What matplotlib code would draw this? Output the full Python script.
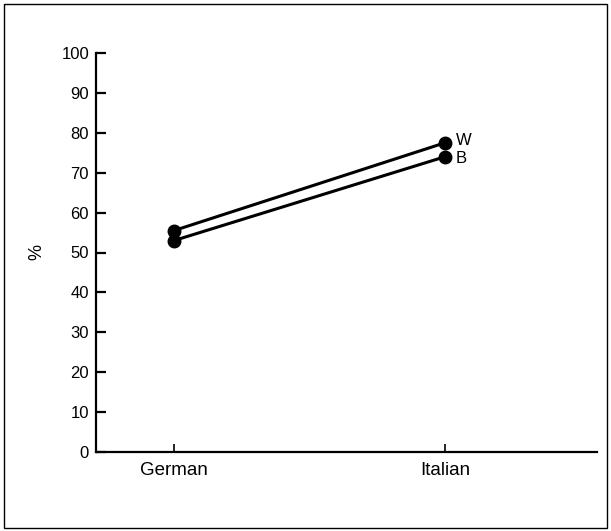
import matplotlib
matplotlib.use("Agg")
import matplotlib.pyplot as plt
from matplotlib.patches import Rectangle

plt.rcParams['font.family'] = ['Liberation Sans', 'DejaVu Sans']

categories = ["German", "Italian"]
series_names = ["W", "B"]
w_values = [55.5, 77.5]
b_values = [53.0, 74.0]
yticks = [0, 10, 20, 30, 40, 50, 60, 70, 80, 90, 100]

fig = plt.figure(figsize=(6.11, 5.31), dpi=100)
ax = fig.add_axes([96/611, 1-452/531, (597-96)/611, (452-53)/531])

xs = [1, 2]
for vals, name in zip([w_values, b_values], series_names):
    ax.plot(xs, vals, color='black', lw=2.2, marker='o', ms=9, solid_capstyle='butt')
    ax.annotate(name, (xs[-1], vals[-1]), xytext=(8, 1.5 if name == "W" else -1.5),
                textcoords='offset points', va='center', ha='left', fontsize=12)

ax.set_xlim(0.712, 2.561)
ax.set_ylim(0, 100)
ax.set_xticks(xs)
ax.set_xticklabels(categories, fontsize=13.5)
ax.set_yticks(yticks)
ax.set_yticklabels([str(t) for t in yticks], fontsize=12)
ax.tick_params(axis='y', direction='in', length=7, width=1.6, pad=5)
ax.tick_params(axis='x', direction='in', length=6, width=1.2, pad=7)
for s in ['top', 'right']:
    ax.spines[s].set_visible(False)
for s in ['left', 'bottom']:
    ax.spines[s].set_linewidth(1.6)
ax.set_ylabel('%', fontsize=13)
ax.yaxis.set_label_coords(-0.101, 0.5)

fig.patches.append(Rectangle((4/611, 1-528/531), (607-4)/611, (528-4)/531,
                             transform=fig.transFigure, fill=False, lw=1.0,
                             edgecolor='black'))

fig.savefig('out.png', dpi=100)
